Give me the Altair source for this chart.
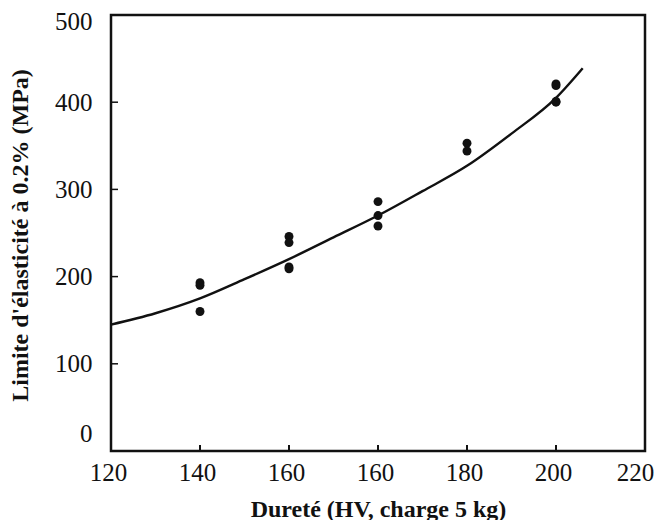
import altair as alt
import pandas as pd

# Tick labels as printed (evenly spaced ticks, positions 0..6)
x_tick_labels = ["120", "140", "160", "160", "180", "200", "220"]
y_ticks = [0, 100, 200, 300, 400, 500]

# Measured points: tick position index and yield strength (MPa)
pt_pos = [1, 1, 1, 2, 2, 2, 2, 3, 3, 3, 4, 4, 5, 5, 5, 5]
pt_val = [193, 190, 160, 246, 239, 211, 209, 286, 270, 258, 353, 344, 421, 419, 400, 401]

# Fitted curve
curve_pos = [0, 0.5, 1, 1.5, 2, 2.5, 3, 3.5, 4, 4.5, 5, 5.3]
curve_val = [145, 158, 175, 197, 220, 245, 270, 298, 327, 364, 405, 439]

pts = pd.DataFrame({"x": pt_pos, "y": pt_val})
curve = pd.DataFrame({"x": curve_pos, "y": curve_val})
xt = pd.DataFrame({"x": [1, 2, 3, 4, 5]})
yt = pd.DataFrame({"y": [100, 200, 300, 400]})

W, H = 534, 436
FONT = "Liberation Serif"
ink = "#111111"

xscale = alt.Scale(domain=[0, 6], nice=False, zero=False)
yscale = alt.Scale(domain=[0, 500], nice=False)

label_arr = "[" + ",".join(f"'{l}'" for l in x_tick_labels) + "]"

xaxis = alt.Axis(
    values=list(range(7)),
    labelExpr=f"{label_arr}[datum.value]",
    title="Dureté (HV, charge 5 kg)",
    domain=False, ticks=False, grid=False,
    labelFont=FONT, labelFontSize=25, labelColor=ink,
    labelPadding=9, labelOffset=alt.ExprRef("datum.value == 6 ? -10 : -3"), labelFlush=False,
    titleFont=FONT, titleFontSize=24, titleFontWeight="bold", titleColor=ink,
    titleY=58, titleBaseline="middle",
)
yaxis = alt.Axis(
    values=y_ticks,
    title="Limite d'élasticité à 0.2% (MPa)",
    domain=False, ticks=False, grid=False,
    labelFont=FONT, labelFontSize=25, labelColor=ink,
    labelPadding=19, labelFlush=False,
    labelOffset=alt.ExprRef("datum.value == 0 ? -18 : (datum.value == 500 ? 6 : 0)"),
    titleFont=FONT, titleFontSize=24, titleFontWeight="bold", titleColor=ink,
    titleX=-91, titleY=220, titleAngle=-90, titleBaseline="middle", titleAlign="center",
)

line = alt.Chart(curve).mark_line(color=ink, strokeWidth=2.4, interpolate="monotone").encode(
    x=alt.X("x:Q", scale=xscale, axis=xaxis),
    y=alt.Y("y:Q", scale=yscale, axis=yaxis),
)
dots = alt.Chart(pts).mark_circle(color=ink, opacity=1, size=80).encode(
    x=alt.X("x:Q", scale=xscale),
    y=alt.Y("y:Q", scale=yscale),
)
xticks = alt.Chart(xt).mark_rule(color=ink, strokeWidth=2).encode(
    x=alt.X("x:Q", scale=xscale),
    y=alt.value(H),
    y2=alt.value(H - 6),
)
yticks = alt.Chart(yt).mark_rule(color=ink, strokeWidth=1.5).encode(
    y=alt.Y("y:Q", scale=yscale),
    x=alt.value(0),
    x2=alt.value(7),
)

chart = alt.layer(line, dots, xticks, yticks).properties(
    width=W, height=H,
    autosize=alt.AutoSizeParams(type="none"),
    padding={"left": 103, "top": 7, "right": 9, "bottom": 69},
    background="white",
).configure_view(stroke=ink, strokeWidth=2.5)

chart.save("out.html", embed_options={"renderer": "svg", "actions": False})
